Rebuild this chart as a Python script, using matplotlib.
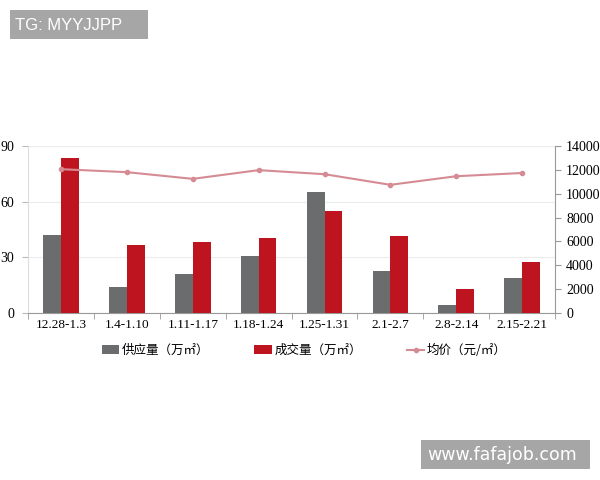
import matplotlib
matplotlib.use("Agg")
import matplotlib.pyplot as plt
from matplotlib.patches import Rectangle
import numpy as np

weeks = ["12.28-1.3", "1.4-1.10", "1.11-1.17", "1.18-1.24", "1.25-1.31", "2.1-2.7", "2.8-2.14", "2.15-2.21"]
supply = [42.1, 14.0, 20.8, 30.8, 65.4, 22.4, 4.1, 19.0]
deals = [83.7, 36.6, 38.2, 40.5, 54.9, 41.2, 12.9, 27.6]
price = [12050, 11800, 11240, 11970, 11630, 10740, 11460, 11730]

plt.rcParams["font.family"] = ["Liberation Serif", "Noto Sans CJK SC"]

fig = plt.figure(figsize=(6, 4.8), dpi=100)
ax = fig.add_axes([0.047, 0.348, 0.878, 0.348])
ax2 = ax.twinx()

x = np.arange(len(weeks))
w = 0.27
b1 = ax.bar(x - w / 2, supply, w, color="#6b6c6e", label="供应量（万㎡）", zorder=3)
b2 = ax.bar(x + w / 2, deals, w, color="#be1420", label="成交量（万㎡）", zorder=3)
l1, = ax2.plot(x, price, color="#d58b93", lw=1.5, marker="o", ms=3, label="均价（元/㎡）")

ax.set_xlim(-0.5, len(weeks) - 0.5)
ax.set_ylim(0, 90)
ax.set_yticks([0, 30, 60, 90])
ax2.set_ylim(0, 14000)
ax2.set_yticks(range(0, 14001, 2000))
ax.yaxis.grid(True, color="#ececec", lw=0.8, zorder=0)
ax.set_axisbelow(True)

ax.set_xticks(x)
ax.set_xticklabels(weeks)
ax.set_xticks(np.arange(-0.5, len(weeks)), minor=True)
ax.tick_params(axis="x", which="major", length=0, labelsize=9.5, pad=4)
ax.tick_params(axis="x", which="minor", length=4, color="#999999")
ax.tick_params(axis="y", length=4, color="#bbbbbb", labelsize=10, pad=6)
ax2.tick_params(axis="y", length=4, color="#999999", labelsize=10, pad=4)

for a in (ax, ax2):
    a.spines["top"].set_visible(False)
    a.spines["left"].set_color("#dddddd")
    a.spines["right"].set_color("#999999")
    a.spines["bottom"].set_color("#999999")
ax.spines["right"].set_visible(False)
ax2.spines["left"].set_visible(False)
ax2.spines["bottom"].set_visible(False)

fig.legend([b1, b2, l1], ["供应量（万㎡）", "成交量（万㎡）", "均价（元/㎡）"],
           loc="center", bbox_to_anchor=(0.507, 0.27), ncol=3, frameon=False,
           columnspacing=3.6, handlelength=1.4, handletextpad=0.2,
           prop={"family": ["Noto Sans CJK SC", "DejaVu Sans"], "size": 9})

# 水印ラベル
fig.patches.append(Rectangle((10 / 600, 1 - 39 / 480), 138 / 600, 29 / 480,
                             transform=fig.transFigure, fc="#a6a6a6", ec="none"))
fig.text(15 / 600, 1 - 25 / 480, "TG: MYYJJPP", fontsize=12, color="white",
         family="Liberation Sans", va="center", ha="left")
fig.patches.append(Rectangle((421 / 600, 1 - 469 / 480), 169 / 600, 29 / 480,
                             transform=fig.transFigure, fc="#a6a6a6", ec="none"))
fig.text(427 / 600, 1 - 455 / 480, "www.fafajob.com", fontsize=12.5, color="white",
         family="DejaVu Sans", va="center", ha="left")

fig.savefig("out.png", dpi=100)
